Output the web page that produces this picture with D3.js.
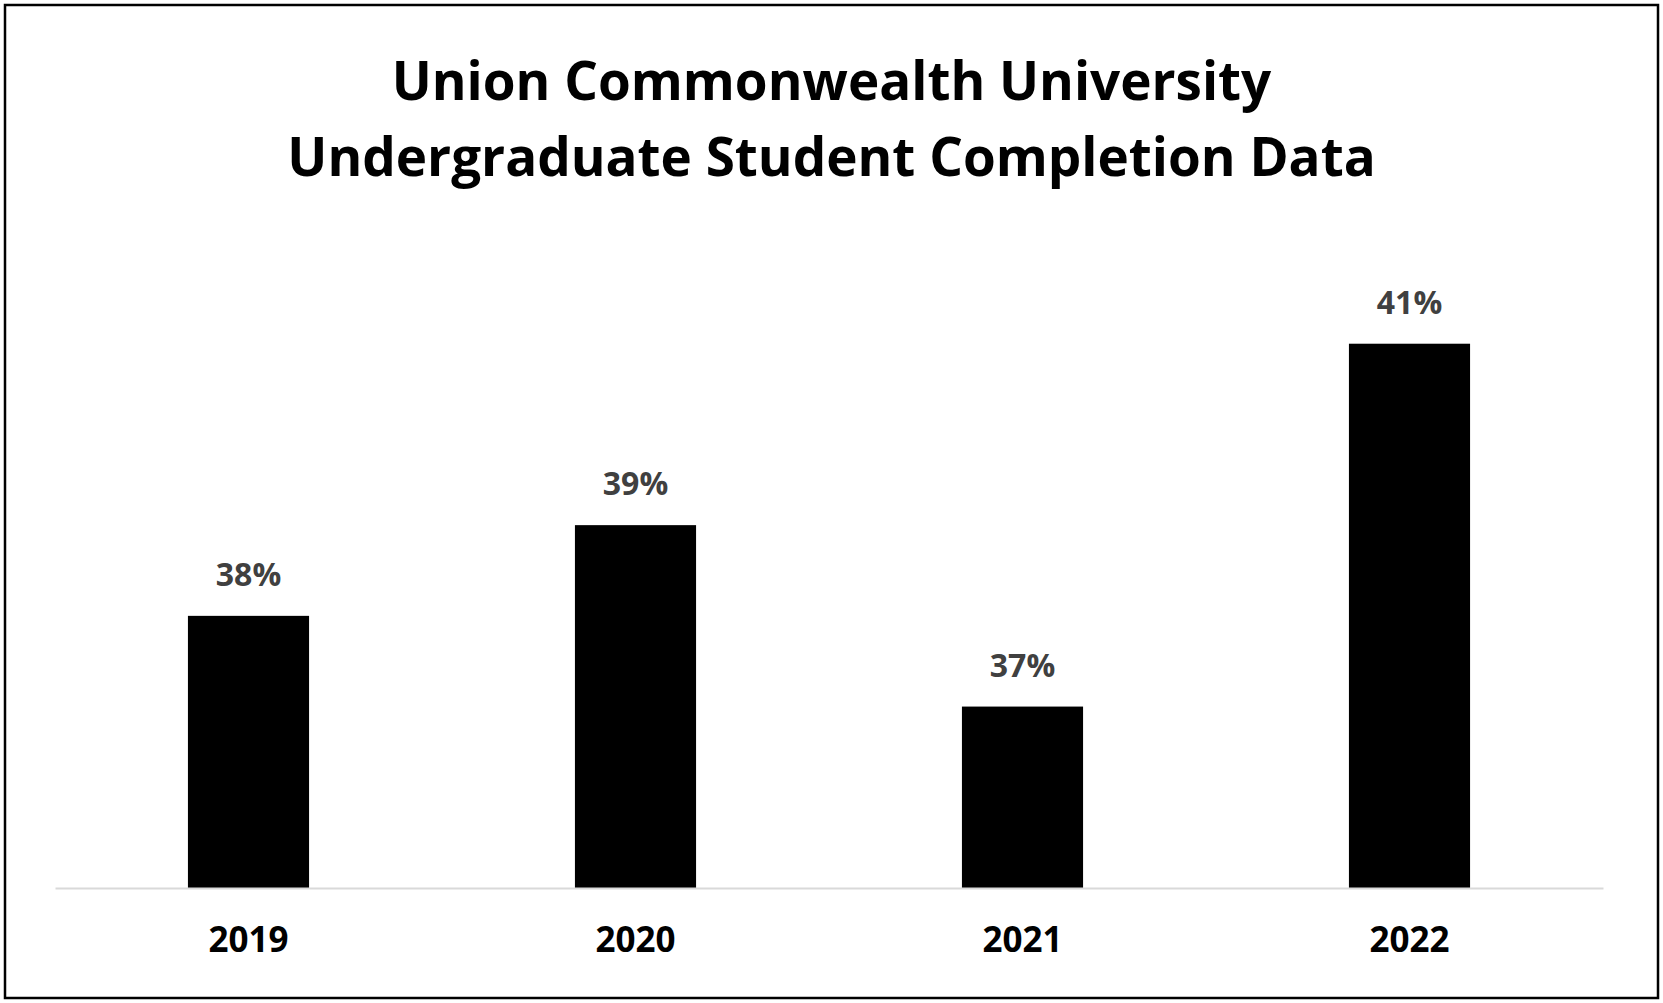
<!DOCTYPE html>
<html lang="en">
<head>
  <meta charset="UTF-8">
  <title>Union Commonwealth University - Undergraduate Student Completion Data</title>
  <style>
    html, body {
      margin: 0;
      padding: 0;
      background: white;
    }
    svg {
      display: block;
    }
    .title {
      font-family: "Open Sans", sans-serif;
      font-size: 53px;
      font-weight: bold;
      text-anchor: middle;
      fill: #000;
    }
    .value-label {
      font-family: "Open Sans", sans-serif;
      font-size: 32px;
      font-weight: bold;
      text-anchor: middle;
      fill: #404040;
    }
    .year-label {
      font-family: "Open Sans", sans-serif;
      font-size: 35px;
      font-weight: bold;
      text-anchor: middle;
      fill: #000;
    }
  </style>
</head>
<body>
  <svg width="1663" height="1003"></svg>
  <script src="https://d3js.org/d3.v7.min.js"></script>
  <script>

// chart data
const years = ["2019", "2020", "2021", "2022"];
const completion = [38, 39, 37, 41];
const titleLines = ["Union Commonwealth University", "Undergraduate Student Completion Data"];

const width = 1663;
const height = 1003;

const svg = d3.select("svg")
  .attr("viewBox", `0 0 ${width} ${height}`);

// outer frame
svg.append("rect")
  .attr("x", 5)
  .attr("y", 5)
  .attr("width", width - 10)
  .attr("height", height - 10)
  .attr("fill", "white")
  .attr("stroke", "#000")
  .attr("stroke-width", 2.5);

// title, two lines
svg.append("g")
  .selectAll("text")
  .data(titleLines)
  .join("text")
  .attr("class", "title")
  .attr("x", width / 2)
  .attr("y", (d, i) => 100 + i * 76)
  .text(d => d);

const x = d3.scaleBand()
  .domain(years)
  .range([55, 1603])
  .paddingInner(0.687)
  .paddingOuter(0.3435);

// axis doesn't start at zero in the original
const y = d3.scaleLinear()
  .domain([35, 42])
  .range([888, 253]);

const data = years.map((yr, i) => ({year: yr, value: completion[i]}));

svg.append("g")
  .selectAll("rect")
  .data(data)
  .join("rect")
  .attr("x", d => x(d.year))
  .attr("y", d => y(d.value))
  .attr("width", x.bandwidth())
  .attr("height", d => y(35) - y(d.value))
  .attr("fill", "#000");

// category axis: plain grey line, no ticks
const xAxis = svg.append("g")
  .attr("transform", `translate(0,${y(35)})`)
  .call(d3.axisBottom(x).tickSize(0).tickPadding(0))
  .attr("font-family", null)
  .attr("font-size", null);

xAxis.select(".domain")
  .attr("stroke", "#d9d9d9")
  .attr("stroke-width", 2);

xAxis.selectAll(".tick text")
  .attr("class", "year-label")
  .attr("y", 64)
  .attr("dy", null);

// value labels
svg.append("g")
  .selectAll("text")
  .data(data)
  .join("text")
  .attr("class", "value-label")
  .attr("x", d => x(d.year) + x.bandwidth() / 2)
  .attr("y", d => y(d.value) - 30)
  .text(d => d.value + "%");

  </script>
</body>
</html>
